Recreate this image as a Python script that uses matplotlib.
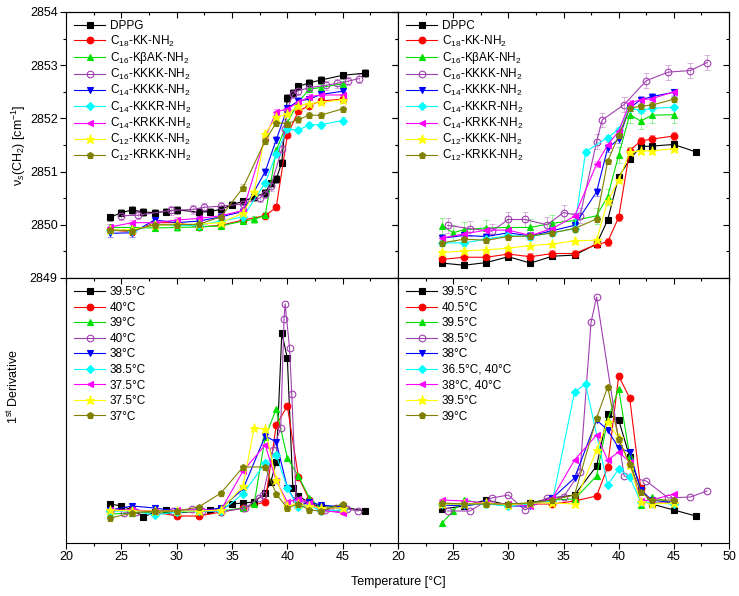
import numpy as np
import matplotlib
matplotlib.use("Agg")
import matplotlib.pyplot as plt
from matplotlib.ticker import MultipleLocator

plt.rcParams.update({"font.family": ["Liberation Sans", "DejaVu Sans"], "font.size": 9,
                     "mathtext.fontset": "custom", "mathtext.rm": "Liberation Sans",
                     "mathtext.it": "Liberation Sans:italic", "mathtext.bf": "Liberation Sans:bold",
                     "axes.linewidth": 0.8})

# ---------- series style (same order in all panels) ----------
COLORS = ["#000000", "#FF0000", "#00E000", "#A040B0", "#0000FF", "#00FFFF", "#FF00FF", "#FFFF00", "#808000"]
MARKERS = ["s", "o", "^", "o", "v", "D", "<", "*", "p"]
NAMES = [r"C$_{18}$-KK-NH$_2$", r"C$_{16}$-KβAK-NH$_2$", r"C$_{16}$-KKKK-NH$_2$", r"C$_{14}$-KKKK-NH$_2$",
         r"C$_{14}$-KKKR-NH$_2$", r"C$_{14}$-KRKK-NH$_2$", r"C$_{12}$-KKKK-NH$_2$", r"C$_{12}$-KRKK-NH$_2$"]
LAB_TL = ["DPPG"] + NAMES
LAB_TR = ["DPPC"] + NAMES
LAB_BL = ["39.5°C", "40°C", "39°C", "40°C", "38°C", "38.5°C", "37.5°C", "37.5°C", "37°C"]
LAB_BR = ["39.5°C", "40.5°C", "39.5°C", "38.5°C", "38°C", "36.5°C, 40°C", "38°C, 40°C", "39.5°C", "39°C"]

T14 = [24, 26, 28, 30, 32, 34, 36, 38, 39, 40, 41, 42, 43, 45]

# ---------- top left: DPPG ----------
TL_T = [
    [24, 25, 26, 27, 28, 29, 30, 32, 33, 34, 35, 36, 37, 38, 38.5, 39, 39.5, 40, 40.5, 41, 42, 43, 45, 47],
    T14,
    [24, 26, 28, 30, 32, 34, 36, 37, 38, 39, 40, 41, 42, 43, 45],
    [25, 26.5, 29.5, 31.5, 32.5, 34, 36, 37.5, 38, 38.5, 39.5, 39.75, 40, 40.5, 41, 42, 43.5, 44.5, 45.5, 46.5],
    T14, T14, T14,
    [24, 26, 28, 30, 32, 34, 36, 37, 38, 39, 40, 41, 42, 43, 45],
    T14,
]
TL_V = [
    [2850.14, 2850.23, 2850.28, 2850.24, 2850.23, 2850.25, 2850.28, 2850.24, 2850.25, 2850.29, 2850.38, 2850.44,
     2850.52, 2850.60, 2850.78, 2850.86, 2851.17, 2852.38, 2852.48, 2852.60, 2852.67, 2852.72, 2852.81, 2852.85],
    [2849.90, 2849.87, 2850.04, 2850.04, 2849.96, 2849.99, 2850.09, 2850.17, 2850.33, 2851.68, 2852.14, 2852.24, 2852.33, 2852.36],
    [2849.95, 2849.95, 2849.94, 2849.95, 2849.96, 2849.98, 2850.07, 2850.10, 2850.18, 2851.40, 2851.92, 2852.31, 2852.55, 2852.58, 2852.65],
    [2850.17, 2850.18, 2850.27, 2850.29, 2850.33, 2850.35, 2850.39, 2850.50, 2850.58, 2850.72, 2851.42, 2851.80,
     2852.16, 2852.46, 2852.52, 2852.58, 2852.62, 2852.66, 2852.70, 2852.75],
    [2849.84, 2849.85, 2850.09, 2850.04, 2850.07, 2850.15, 2850.25, 2851.00, 2851.60, 2852.19, 2852.33, 2852.36, 2852.45, 2852.51],
    [2849.91, 2849.88, 2850.01, 2849.99, 2849.99, 2850.07, 2850.15, 2850.79, 2851.33, 2851.80, 2851.78, 2851.88, 2851.88, 2851.96],
    [2849.96, 2850.04, 2850.04, 2850.09, 2850.12, 2850.17, 2850.27, 2851.64, 2852.12, 2852.18, 2852.30, 2852.41, 2852.44, 2852.44],
    [2849.90, 2849.91, 2849.99, 2850.01, 2850.01, 2850.04, 2850.22, 2850.61, 2851.71, 2852.02, 2852.08, 2852.23, 2852.28, 2852.30, 2852.35],
    [2849.90, 2849.89, 2850.00, 2850.00, 2850.01, 2850.15, 2850.70, 2851.58, 2851.92, 2851.90, 2851.98, 2852.06, 2852.06, 2852.18],
]
TL_ERR = [0.07, 0.05, 0.06, 0.08, 0.07, 0.06, 0.05, 0.05, 0.06]

# ---------- top right: DPPC ----------
TR_T = [
    [24, 26, 28, 30, 32, 34, 36, 38, 39, 40, 41, 42, 43, 45, 47],
    T14,
    [24, 25, 26, 28, 30, 32, 34, 36, 38, 39, 40, 41, 42, 43, 45],
    [24.5, 26.5, 28.5, 30, 31.5, 33.5, 35, 36.5, 38, 38.5, 40.5, 42.5, 44.5, 46.5, 48],
    T14,
    [24, 26, 28, 30, 32, 34, 36, 37, 39, 40, 41, 42, 43, 45],
    T14, T14, T14,
]
TR_V = [
    [2849.28, 2849.24, 2849.29, 2849.40, 2849.28, 2849.41, 2849.43, 2849.64, 2850.09, 2850.90, 2851.23, 2851.47, 2851.48, 2851.51, 2851.37],
    [2849.35, 2849.39, 2849.39, 2849.45, 2849.40, 2849.46, 2849.46, 2849.63, 2849.68, 2850.14, 2851.39, 2851.58, 2851.61, 2851.67],
    [2849.98, 2849.85, 2849.91, 2849.94, 2849.95, 2849.95, 2850.03, 2850.08, 2850.17, 2850.53, 2851.31, 2852.07, 2851.95, 2852.06, 2852.07],
    [2849.99, 2849.93, 2849.88, 2850.10, 2850.10, 2850.00, 2850.23, 2850.17, 2851.56, 2851.97, 2852.26, 2852.71, 2852.87, 2852.90, 2853.05],
    [2849.75, 2849.80, 2849.78, 2849.85, 2849.79, 2849.89, 2849.99, 2850.62, 2851.44, 2851.61, 2852.20, 2852.35, 2852.41, 2852.49],
    [2849.66, 2849.66, 2849.73, 2849.80, 2849.78, 2849.85, 2849.93, 2851.37, 2851.64, 2851.79, 2852.19, 2852.15, 2852.19, 2852.21],
    [2849.75, 2849.83, 2849.90, 2849.90, 2849.80, 2849.93, 2850.16, 2851.14, 2851.50, 2851.76, 2852.29, 2852.35, 2852.37, 2852.50],
    [2849.48, 2849.51, 2849.53, 2849.56, 2849.61, 2849.64, 2849.70, 2849.71, 2850.44, 2850.84, 2851.36, 2851.39, 2851.39, 2851.43],
    [2849.66, 2849.73, 2849.71, 2849.78, 2849.79, 2849.85, 2849.93, 2850.11, 2851.19, 2851.68, 2852.19, 2852.23, 2852.25, 2852.36],
]
TR_ERR = [0.05, 0.07, 0.15, 0.14, 0.07, 0.05, 0.06, 0.05, 0.05]

# ---------- bottom left: 1st derivative, DPPG ----------
BL_T = [
    TL_T[0], T14, TL_T[2],
    [25.2, 26.3, 29.7, 31.4, 32.3, 34, 36.2, 37.4, 37.8, 38.7, 39.4, 39.7, 39.8, 40.2, 40.4, 40.8, 41.8, 43.4, 44.4, 45.4, 46.4],
    T14, T14, T14, TL_T[7], T14,
]
BL_V = [
    [0.06, 0.04, 0.0, -0.07, -0.02, 0.0, -0.03, -0.01, 0.0, 0.01, 0.06, 0.07, 0.08, 0.17, 0.28, 0.48, 1.77, 1.52,
     0.22, 0.14, 0.07, 0.03, 0.03, -0.01],
    [-0.01, 0.0, -0.02, -0.06, -0.06, -0.02, 0.02, 0.08, 0.85, 1.04, 0.33, 0.10, -0.01, -0.01],
    [-0.04, -0.03, -0.02, -0.02, -0.01, -0.01, 0.02, 0.06, 0.73, 1.01, 0.52, 0.34, 0.12, 0.02, 0.05],
    [-0.03, -0.02, -0.01, 0.01, -0.01, -0.02, 0.02, 0.12, 0.15, 0.60, 0.82, 1.91, 2.06, 1.62, 1.16, 0.10, 0.07,
     0.0, 0.02, 0.01, -0.01],
    [0.0, 0.04, 0.02, -0.01, -0.01, 0.02, 0.21, 0.74, 0.68, 0.22, 0.04, 0.08, 0.05, 0.03],
    [-0.01, -0.01, -0.05, -0.02, -0.01, -0.01, 0.16, 0.47, 0.55, 0.22, 0.03, 0.05, -0.01, 0.0],
    [0.0, 0.0, -0.01, 0.0, 0.0, 0.0, 0.39, 0.65, 0.29, 0.08, 0.11, 0.07, 0.0, -0.03],
    [0.0, -0.01, -0.01, -0.01, -0.01, 0.0, 0.24, 0.82, 0.81, 0.30, 0.04, 0.06, 0.04, 0.02, 0.02],
    [-0.08, -0.03, -0.01, -0.01, 0.03, 0.17, 0.43, 0.43, 0.16, 0.02, 0.06, 0.0, -0.01, 0.06],
]

# ---------- bottom right: 1st derivative, DPPC ----------
BR_T = [
    TR_T[0], T14, TR_T[2],
    [24.5, 26.5, 28.5, 30, 31.5, 33.5, 35, 36.5, 37.5, 38, 40.5, 42.5, 44.5, 46.5, 48],
    T14, TR_T[5], T14, T14, T14,
]
BR_V = [
    [0.01, 0.04, 0.10, 0.05, 0.07, 0.12, 0.15, 0.44, 0.96, 0.90, 0.53, 0.22, 0.06, 0.0, -0.06],
    [0.06, 0.06, 0.07, 0.05, 0.06, 0.06, 0.09, 0.14, 0.43, 1.34, 1.12, 0.22, 0.07, 0.07],
    [-0.13, -0.01, 0.10, 0.06, 0.06, 0.07, 0.10, 0.11, 0.34, 0.90, 1.21, 0.54, 0.05, 0.13, 0.07],
    [-0.01, -0.01, 0.12, 0.15, 0.0, 0.12, 0.13, 0.38, 1.88, 2.13, 0.34, 0.29, 0.12, 0.13, 0.19],
    [0.05, 0.04, 0.07, 0.04, 0.04, 0.12, 0.32, 0.90, 0.80, 0.62, 0.58, 0.20, 0.10, 0.07],
    [0.06, 0.06, 0.06, 0.04, 0.06, 0.09, 1.18, 1.26, 0.25, 0.41, 0.33, 0.08, 0.07, 0.06],
    [0.10, 0.09, 0.07, 0.06, 0.04, 0.12, 0.50, 0.75, 0.50, 0.58, 0.48, 0.09, 0.10, 0.16],
    [0.06, 0.06, 0.07, 0.05, 0.07, 0.07, 0.06, 0.60, 0.88, 0.72, 0.45, 0.08, 0.06, 0.07],
    [0.07, 0.06, 0.06, 0.06, 0.07, 0.10, 0.15, 0.92, 1.23, 0.71, 0.46, 0.18, 0.10, 0.10],
]


def draw(ax, Ts, Vs, labels, errs=None, spacing=0.28):
    for i in range(9):
        c = COLORS[i]
        mfc = "none" if i == 3 else c
        ms = 6.5 if MARKERS[i] == "*" else (4.0 if MARKERS[i] == "D" else 4.8)
        if errs is not None:
            ax.errorbar(Ts[i], Vs[i], yerr=errs[i], fmt="none", ecolor=c, elinewidth=0.6,
                        capsize=2, capthick=0.6, alpha=0.45, zorder=1)
        ax.plot(Ts[i], Vs[i], color=c, lw=0.8, marker=MARKERS[i], ms=ms, mfc=mfc,
                mec=c, mew=0.8, label=labels[i], zorder=2)
    ax.legend(loc="upper left", bbox_to_anchor=(0, 1), borderaxespad=0.3, frameon=False,
              fontsize=8.5, labelspacing=spacing, handlelength=2.6, handletextpad=0.4)


def style(ax, xlabels, yticks, ylabels, xmax_label):
    ax.set_xlim(20, 50)
    ax.set_xticks(np.arange(20, xmax_label + 1, 5))
    ax.xaxis.set_minor_locator(MultipleLocator(2.5))
    ax.tick_params(which="both", direction="out", top=False, right=False, labelsize=9, pad=2)
    ax.tick_params(which="major", length=4, width=0.8)
    ax.tick_params(which="minor", length=2.5, width=0.8)
    if not xlabels:
        ax.tick_params(axis="x", labelbottom=False)
    sx = ax.secondary_xaxis("top")
    sx.set_xticks(np.arange(20, 51, 5))
    sx.xaxis.set_minor_locator(MultipleLocator(2.5))
    sx.tick_params(which="both", direction="in", labeltop=False)
    sx.tick_params(which="major", length=4, width=0.8)
    sx.tick_params(which="minor", length=2.5, width=0.8)
    if yticks:
        ax.set_ylim(2849, 2854)
        ax.yaxis.set_major_locator(MultipleLocator(1))
        ax.yaxis.set_minor_locator(MultipleLocator(0.5))
        ax.yaxis.set_major_formatter(matplotlib.ticker.FormatStrFormatter("%d"))
        if not ylabels:
            ax.tick_params(axis="y", labelleft=False)
        sy = ax.secondary_yaxis("right")
        sy.yaxis.set_major_locator(MultipleLocator(1))
        sy.yaxis.set_minor_locator(MultipleLocator(0.5))
        sy.tick_params(which="both", direction="in", labelright=False)
        sy.tick_params(which="major", length=4, width=0.8)
        sy.tick_params(which="minor", length=2.5, width=0.8)
    else:
        ax.set_ylim(-0.33, 2.32)
        ax.set_yticks([])


W, H = 739, 596
fig = plt.figure(figsize=(W / 100, H / 100), dpi=100)
x0, xm, x1 = 66, 398, 729
y0, ym, y1 = 12, 278, 543
pw = (xm - x0) / W
top_b, top_h = 1 - ym / H, (ym - y0) / H
bot_b, bot_h = 1 - y1 / H, (y1 - ym) / H

ax_tl = fig.add_axes([x0 / W, top_b, pw, top_h])
ax_tr = fig.add_axes([xm / W, top_b, (x1 - xm) / W, top_h])
ax_bl = fig.add_axes([x0 / W, bot_b, pw, bot_h])
ax_br = fig.add_axes([xm / W, bot_b, (x1 - xm) / W, bot_h])

draw(ax_tl, TL_T, TL_V, LAB_TL, TL_ERR, spacing=0.1)
draw(ax_tr, TR_T, TR_V, LAB_TR, TR_ERR, spacing=0.1)
draw(ax_bl, BL_T, BL_V, LAB_BL, spacing=0.3)
draw(ax_br, BR_T, BR_V, LAB_BR, spacing=0.3)

style(ax_tl, False, True, True, 45)
style(ax_tr, False, True, False, 50)
style(ax_bl, True, False, False, 45)
style(ax_br, True, False, False, 50)

fig.text(19 / W, 1 - 145 / H, "ν$_s$(CH$_2$) [cm$^{-1}$]", rotation=90, ha="center", va="center", fontsize=9)
fig.text(13 / W, 1 - 387 / H, r"1$^{\mathrm{st}}$ Derivative", rotation=90, ha="center", va="center", fontsize=9)
fig.text(398 / W, 1 - 582 / H, "Temperature [°C]", ha="center", va="center", fontsize=9)

fig.savefig("out.png", dpi=100)
